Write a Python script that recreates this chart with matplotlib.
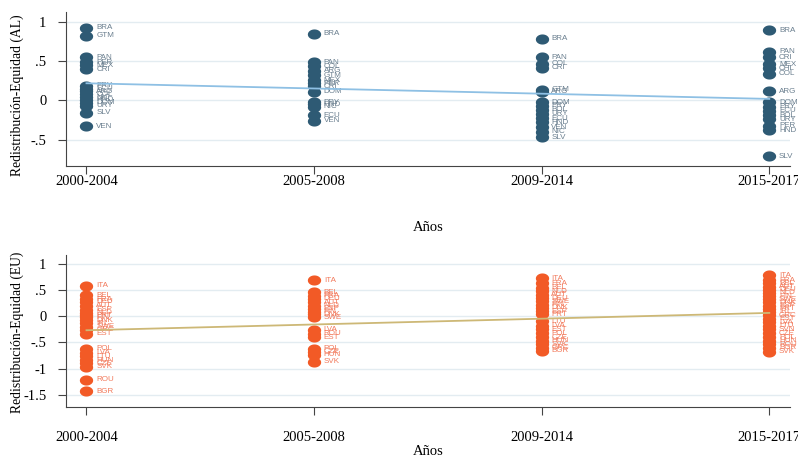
import numpy as np
import matplotlib
matplotlib.use("Agg")
import matplotlib.pyplot as plt
from matplotlib.path import Path

# periodos
periodos = ["2000-2004", "2005-2008", "2009-2014", "2015-2017"]

# America Latina (AL)
al_p1 = ["BRA", "GTM", "PAN", "PER", "MEX", "CRI", "PRY", "ECU", "ARG", "COL", "NIC", "HND", "DOM", "URY", "SLV", "VEN"]
al_v1 = [0.93, 0.83, 0.55, 0.49, 0.45, 0.40, 0.19, 0.15, 0.12, 0.08, 0.04, 0.01, -0.03, -0.07, -0.16, -0.33]
al_p2 = ["BRA", "PAN", "COL", "ARG", "GTM", "MEX", "PER", "CRI", "DOM", "PRY", "HND", "NIC", "ECU", "VEN"]
al_v2 = [0.85, 0.49, 0.44, 0.38, 0.32, 0.26, 0.22, 0.18, 0.11, -0.02, -0.05, -0.08, -0.19, -0.26]
al_p3 = ["BRA", "PAN", "COL", "CRI", "GTM", "ARG", "DOM", "PRY", "BOL", "URY", "ECU", "HND", "VEN", "NIC", "SLV"]
al_v3 = [0.79, 0.55, 0.47, 0.42, 0.14, 0.11, -0.02, -0.07, -0.12, -0.17, -0.23, -0.28, -0.34, -0.40, -0.47]
al_p4 = ["BRA", "PAN", "CRI", "MEX", "CHL", "COL", "ARG", "DOM", "PRY", "ECU", "BOL", "URY", "PER", "HND", "SLV"]
al_v4 = [0.90, 0.62, 0.55, 0.46, 0.41, 0.34, 0.12, -0.02, -0.08, -0.13, -0.19, -0.24, -0.32, -0.38, -0.71]
al_fit = [0.22, 0.02]

# Union Europea (EU)
eu_p1 = ["ITA", "BEL", "FRA", "DEU", "AUT", "ESP", "NLD", "PRT", "FIN", "DNK", "IRL", "SWE", "GRC", "EST",
         "POL", "LVA", "LTU", "HUN", "CZE", "SVK", "ROU", "BGR"]
eu_v1 = [0.58, 0.40, 0.32, 0.27, 0.20, 0.12, 0.06, 0.02, -0.02, -0.08, -0.14, -0.20, -0.26, -0.34,
         -0.62, -0.70, -0.76, -0.84, -0.90, -0.96, -1.21, -1.43]
eu_p2 = ["ITA", "BEL", "FRA", "DEU", "AUT", "NLD", "ESP", "FIN", "DNK", "SWE", "LVA", "ROU", "EST",
         "POL", "CZE", "HUN", "SVK"]
eu_v2 = [0.68, 0.45, 0.39, 0.33, 0.26, 0.20, 0.14, 0.08, 0.03, -0.02, -0.26, -0.34, -0.40,
         -0.62, -0.68, -0.74, -0.87]
eu_p3 = ["ITA", "FRA", "BEL", "NLD", "AUT", "DEU", "SWE", "FIN", "DNK", "ESP", "PRT", "LTU", "LVA",
         "EST", "POL", "CZE", "HUN", "SVK", "GRC", "BGR"]
eu_v3 = [0.72, 0.62, 0.54, 0.47, 0.41, 0.34, 0.28, 0.22, 0.16, 0.09, 0.03, -0.10, -0.18,
         -0.25, -0.33, -0.40, -0.47, -0.54, -0.60, -0.66]
eu_p4 = ["ITA", "FRA", "BEL", "AUT", "DEU", "NLD", "FIN", "SWE", "DNK", "ESP", "PRT", "IRL", "GRC",
         "EST", "LVA", "LTU", "SVN", "CZE", "POL", "HUN", "ROU", "BGR", "SVK"]
eu_v4 = [0.78, 0.68, 0.62, 0.56, 0.50, 0.44, 0.38, 0.32, 0.26, 0.20, 0.14, 0.08, 0.02,
         -0.05, -0.12, -0.18, -0.25, -0.33, -0.40, -0.47, -0.54, -0.60, -0.68]
eu_fit = [-0.27, 0.06]

serif = "Liberation Serif"

# circulo algo achatado, como en el original
t = np.linspace(0, 2 * np.pi, 40)
elipse = Path(np.column_stack([0.5 * np.cos(t), 0.38 * np.sin(t)]), closed=True)

fig = plt.figure(figsize=(7.98, 4.63), dpi=100)
ax1 = fig.add_axes([0.0827, 0.641, 0.907, 0.333])
ax2 = fig.add_axes([0.0827, 0.121, 0.907, 0.328])


def panel(ax, nombres, valores, fit, col_dot, col_lab, col_fit, yticks, ylabs, ylim, ylabel, ylab_y):
    for i in range(4):
        xs = np.full(len(valores[i]), i + 1.0)
        ax.scatter(xs, valores[i], s=92, marker=elipse, color=col_dot, zorder=3, linewidths=0)
        for n, v in zip(nombres[i], valores[i]):
            ax.annotate(n, (i + 1, v), xytext=(7, 0), textcoords="offset points",
                        fontsize=5.8, color=col_lab, va="center", ha="left",
                        family="Liberation Sans", annotation_clip=False, zorder=4)
    ax.plot([1, 4], fit, color=col_fit, lw=1.3, zorder=5)
    ax.set_xlim(0.91, 4.09)
    ax.set_ylim(ylim)
    ax.set_yticks(yticks)
    ax.set_yticklabels(ylabs, family=serif, fontsize=10.5)
    ax.set_xticks([1, 2, 3, 4])
    ax.set_xticklabels(periodos, family=serif, fontsize=10.5)
    ax.set_ylabel(ylabel, family=serif, fontsize=9.8)
    ax.yaxis.set_label_coords(-0.058, ylab_y)
    ax.grid(axis="y", color="#e3ecf1", lw=1.0)
    ax.set_axisbelow(True)
    for s in ["top", "right"]:
        ax.spines[s].set_visible(False)
    ax.spines["left"].set_color("#444444")
    ax.spines["bottom"].set_color("#444444")
    ax.tick_params(axis="both", length=6, color="#444444")
    ax.tick_params(axis="y", pad=8)


panel(ax1, [al_p1, al_p2, al_p3, al_p4], [al_v1, al_v2, al_v3, al_v4], al_fit,
      "#2e5a74", "#6a7f8f", "#8ec0e4", [1, 0.5, 0, -0.5], ["1", ".5", "0", "-.5"],
      (-0.84, 1.13), "Redistribución-Equidad (AL)", 0.46)
panel(ax2, [eu_p1, eu_p2, eu_p3, eu_p4], [eu_v1, eu_v2, eu_v3, eu_v4], eu_fit,
      "#f25a26", "#f27a5c", "#cdb876", [1, 0.5, 0, -0.5, -1, -1.5],
      ["1", ".5", "0", "-.5", "-1", "-1.5"], (-1.73, 1.16), "Redistribución-Equidad (EU)", 0.49)

ax1.tick_params(axis="x", pad=0)
ax1.set_xlabel("Años", family=serif, fontsize=10.5, labelpad=24)
ax2.tick_params(axis="x", pad=11)
ax2.set_xlabel("Años", family=serif, fontsize=10.5, labelpad=1)

fig.savefig("out.png", dpi=100)
